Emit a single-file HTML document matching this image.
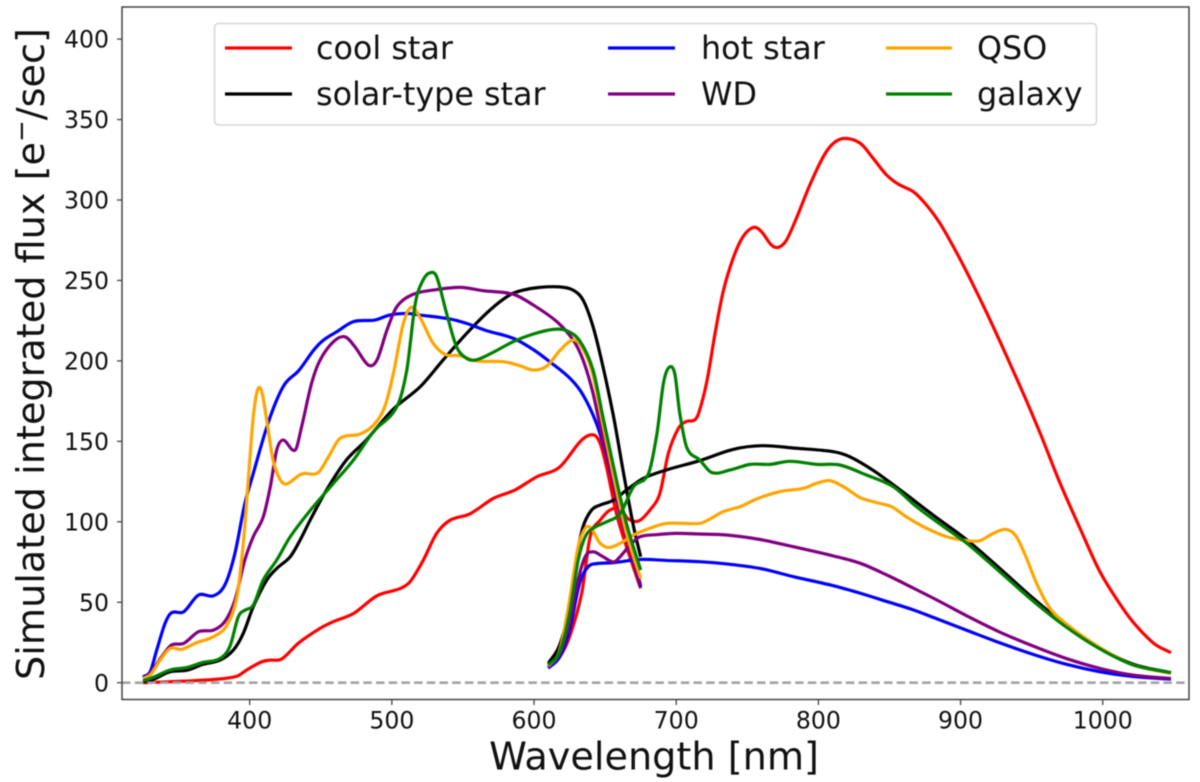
<!DOCTYPE html>
<html lang="en">
<head>
<meta charset="utf-8">
<title>Simulated integrated flux vs wavelength</title>
<style>
html,body{margin:0;padding:0;background:#fff;width:1200px;height:782px;overflow:hidden}
svg{display:block;filter:blur(0.5px)}
text{font-family:"DejaVu Sans","Liberation Sans",sans-serif;fill:#111}
</style>
</head>
<body>
<svg id="chart" xmlns="http://www.w3.org/2000/svg" width="1200" height="782" viewBox="0 0 1200 782">
  <g id="series-layer"></g>
  <g id="reference-layer"></g>
  <rect x="122" y="7" width="1067" height="692.5" fill="none" stroke="#444" stroke-width="1.5"/>
  <g id="x-ticks"></g>
  <g id="y-ticks"></g>
  <text x="654" y="769.5" font-size="38.2" text-anchor="middle">Wavelength [nm]</text>
  <text transform="translate(44,354) rotate(-90)" font-size="38.2" text-anchor="middle">Simulated integrated flux [e<tspan font-size="26" dy="-14">−</tspan><tspan dy="14">/sec]</tspan></text>
  <g>
    <rect x="214.5" y="23.5" width="882" height="101.5" rx="4" fill="#fff" fill-opacity="0.85" stroke="#d6d6d6" stroke-width="1.5"/>
    <line x1="225" x2="292" y1="48" y2="48" stroke="#ff0000" stroke-width="3.2"/>
    <text x="316" y="59" font-size="31.8">cool star</text>
    <line x1="225" x2="292" y1="94" y2="94" stroke="#000000" stroke-width="3.2"/>
    <text x="316" y="105" font-size="31.8">solar-type star</text>
    <line x1="608" x2="675" y1="48" y2="48" stroke="#0000ff" stroke-width="3.2"/>
    <text x="701" y="59" font-size="31.8">hot star</text>
    <line x1="608" x2="675" y1="94" y2="94" stroke="#800080" stroke-width="3.2"/>
    <text x="701" y="105" font-size="31.8">WD</text>
    <line x1="886" x2="952" y1="48" y2="48" stroke="#ffa500" stroke-width="3.2"/>
    <text x="977" y="59" font-size="31.8">QSO</text>
    <line x1="886" x2="952" y1="94" y2="94" stroke="#008000" stroke-width="3.2"/>
    <text x="977" y="105" font-size="31.8">galaxy</text>
  </g>
</svg>
<script>
const xTickValues = [400, 500, 600, 700, 800, 900, 1000];
const yTickValues = [0, 50, 100, 150, 200, 250, 300, 350, 400];

const coolBlueWl = [325,344,374.5,391,398,408.5,414,422.5,434,449.5,459,473,489.5,506,513,522,531.5,541,555,571.5,586.5,602,618,633.5,642,646.5,651,658,665,675];
const coolBlueFlux = [0,0.6,2,4,8,13,14,14.7,24.4,33.8,38,43,54,58.6,63,76,92.8,101,105,114.6,119.7,128,134,150.8,154,148.7,134,105,84.5,58.6];
const coolRedWl = [610,618,625,633.5,639.5,646.5,653.5,660.5,666,673.5,681.5,688.5,694.5,701.5,707,713,716,721.5,727.5,733,740,747,754.5,760,767,772,777.5,784.5,794,803.5,810.5,818.5,829.5,838.5,848,856.5,867,876,885.5,897.5,909,921,942,956,970,984,998,1012,1022,1036,1048];
const coolRedFlux = [9.5,16,28.6,55.5,90.8,101,107.3,108.4,102,100.5,107.3,117.7,142.6,158,162.3,163.3,168,187,218,243,263.7,277.2,283,280.3,272,270.6,275,288.6,309.3,327,335.2,338.3,335.2,325.9,315.5,309.7,305,296.9,285.5,266.8,247,225,184,155,124,96,69,49,37,24.4,18.6];

const solarBlueWl = [325,332,344,356,367,379,388.5,395.5,402.5,412,419,428.5,435.5,442.5,454,468,482,501,520,536,552.5,569,583,592.5,604,618,627.5,634.5,641.5,648.5,656,663,670,675];
const solarBlueFlux = [0.6,2,6.8,7.8,11.4,14,20.3,30.7,47.2,63.8,71,78.3,88.7,101,119.7,138.4,150.8,170,184,200.5,217,231.6,241,244,245.7,246,244,237.8,221.3,196.4,165,130,97,78.3];
const solarRedWl = [610,618,625,630,634.5,640.5,646.5,656,665,677,693,716.5,740,760,784.5,810.5,822,838.5,857.5,881,904.5,927.5,951,974.5,998,1021.5,1048];
const solarRedFlux = [12,23.4,47,78,97,107.3,110.4,113.5,119.7,127,132.2,138,145,147.3,145.7,143.6,140.5,132,119.8,104,88.7,71.1,52.5,35.5,21.5,11.5,6.2];

const hotBlueWl = [325,330,334.5,340.5,345,353.5,364,374.5,382.5,389.5,396.5,402.5,411,418,425,434.5,445,452,461,473,488,498.5,510.5,520,541,552.5,566.5,585.5,599.5,611,625.5,634.5,644,651,660.5,667.5,675];
const hotBlueFlux = [3.7,6.8,20,37,43.5,44,54.5,54,60.7,80,111,130,156,173.6,186,194,206.7,213,218,224.4,225.4,228.5,229.5,228.5,226,223.3,218.8,214,207,199.5,189,178.8,161,140.5,105,82.4,59.6];
const hotRedWl = [610,618,625,632,638,644,656,675,693,716.5,735.5,759,782.5,810.5,829.5,848,867,881,904.5,927.5,951,974.5,998,1021.5,1048];
const hotRedFlux = [9,16,32.7,61.7,72,74,74.6,76.6,76,75.2,73.8,71,65.9,60.3,55.6,50.5,45.2,40.5,32.5,24.8,17.6,11.4,6.8,3.8,2.2];

const wdBlueWl = [325,330,338,345,353.5,364,374.5,382.5,389.5,396.5,402.5,409.5,414.5,419,423.5,432,436.5,443.5,449.5,459,467,474,483.5,489.5,496.5,503.5,515,529,548,564.5,585.5,599.5,616,627.5,634.5,641.5,648.5,656,663,675];
const wdBlueFlux = [2.7,5.8,16,23.4,24.4,31.7,32.7,38,51,76,90.7,103,121.8,144.6,150.8,144.6,159,186,200.5,212,215,208.8,197.4,200.5,219,233.7,241.4,244,245.7,243.6,241.4,234.7,224.4,213,200.5,179.8,150.8,121.8,97,60.7];
const wdRedWl = [610,618,625,631,636,641.5,648.5,656,660.5,667.5,674.5,686,700,716.5,735.5,759,782.5,810.5,829.5,848,867,885.5,904.5,927.5,951,974.5,998,1021.5,1048];
const wdRedFlux = [10,18,37,63.8,78.3,81.4,78.3,75,78.3,85.5,90.7,92,92.8,92.4,91.8,89,84.5,78.8,74.2,67,58.7,50.4,41.5,31.5,22.8,15,8.9,4.7,2.6];

const qsoBlueWl = [325,330,337,344,352,362.5,374.5,384,391,395.5,399,402.5,405.5,408.5,412,416.5,421.5,426,436.5,448,455.5,463.5,477.5,487,495,501,508,513.5,519.5,529,537.5,548,559.5,578.5,590,599.5,609,618.5,627.5,633.5,640.5,646.5,656,665,675];
const qsoBlueFlux = [2.7,4.8,14,21.3,20.7,24.8,28.6,35.8,53.4,86.6,126,165,181.9,180.9,163,138,126,123.5,129.7,130.5,140.5,151.8,154.5,160,171.5,192,223,233.3,227.5,211,204,203.2,200,199.5,197,194.3,196.8,206.8,213,208.8,194.3,169.5,128,92.8,64.8];
const qsoRedWl = [610,618,625,631,636,640,643,646.5,652.5,660.5,670,681.5,693,716.5,723.5,733,745,756.5,773,789.5,799,808,817.5,829.5,841,851.5,862,876,890,904.5,913.5,923,931.5,938.5,945.5,953.5,963,972.5,986.5,1003,1021.5,1048];
const qsoRedFlux = [10.3,20,51.4,84.5,96,96.3,91.8,86.6,84,86.6,91.8,96,99,99,101.6,106.3,109.4,114.2,118.8,120.8,124,125.6,121.9,115,111.9,109.4,103,96,90.8,88.3,88.2,92.8,95.3,91.7,79.3,61.7,46,37.9,28.5,19.2,11,5.8];

const galaxyBlueWl = [325,332,344,356,367,379,386,392,396.5,402.5,409.5,419,428.5,442.5,459,473,487,503.5,510.5,516.5,522,527,531.5,538.5,545.5,552.5,558.5,569,585.5,599.5,613.5,623,632.5,641.5,648.5,656,665,675];
const galaxyBlueFlux = [1.2,3.3,7.9,9.5,12.6,15,22.4,41,45,48.2,63.8,76.2,90.7,107,124,138.4,156,171.5,194.3,235.8,250.3,254.8,252.3,229.5,208.8,201.6,200.5,204.3,212,216.7,219.6,218.8,212,194.3,165,134,99,70];
const galaxyRedWl = [610,618,625,631,636,641.5,651,660.5,670,680.5,686.5,691,695,699,702.5,707.5,716.5,725,738,752,766,780,799,815,834,852.5,869,888,904.5,927.5,951,974.5,998,1021.5,1048];
const galaxyRedFlux = [11,19,43,76,90.7,96,100,105,121.8,130,155,186,196,192,167.4,146,138.5,130.6,132.2,135.7,135.7,137.6,135.7,135.3,129,121.9,109.4,97,86.6,69,50.8,34.5,21,11,6.2];

const X_AT_400 = 249.7, PX_PER_NM = 1.4217;
const Y_AT_0 = 682.7, PX_PER_FLUX = 1.609;
const NS = 'http://www.w3.org/2000/svg';

function xScale(wl) { return X_AT_400 + (wl - 400) * PX_PER_NM; }
function yScale(f) { return Y_AT_0 - f * PX_PER_FLUX; }

function curvePath(wls, fluxes) {
  const n = Math.min(wls.length, fluxes.length);
  const px = [], py = [], m = [];
  for (let i = 0; i < n; i++) { px.push(xScale(wls[i])); py.push(yScale(fluxes[i])); }
  for (let i = 0; i < n; i++) {
    const a = Math.max(0, i - 1), b = Math.min(n - 1, i + 1);
    m.push((py[b] - py[a]) / (px[b] - px[a]));
  }
  let d = 'M' + px[0].toFixed(2) + ' ' + py[0].toFixed(2);
  for (let i = 0; i < n - 1; i++) {
    const h = (px[i + 1] - px[i]) / 3;
    d += 'C' + (px[i] + h).toFixed(2) + ' ' + (py[i] + m[i] * h).toFixed(2) + ' ' +
         (px[i + 1] - h).toFixed(2) + ' ' + (py[i + 1] - m[i + 1] * h).toFixed(2) + ' ' +
         px[i + 1].toFixed(2) + ' ' + py[i + 1].toFixed(2);
  }
  return d;
}

function drawLine(name, color, wls, fluxes) {
  const p = document.createElementNS(NS, 'path');
  p.setAttribute('d', curvePath(wls, fluxes));
  p.setAttribute('fill', 'none');
  p.setAttribute('stroke', color);
  p.setAttribute('stroke-width', '3.2');
  p.setAttribute('stroke-linejoin', 'round');
  
  
  document.getElementById('series-layer').appendChild(p);
}

drawLine('cool-star-blue-arm', '#ff0000', coolBlueWl, coolBlueFlux);
drawLine('cool-star-red-arm', '#ff0000', coolRedWl, coolRedFlux);
drawLine('solar-type-star-blue-arm', '#000000', solarBlueWl, solarBlueFlux);
drawLine('solar-type-star-red-arm', '#000000', solarRedWl, solarRedFlux);
drawLine('hot-star-blue-arm', '#0000ff', hotBlueWl, hotBlueFlux);
drawLine('hot-star-red-arm', '#0000ff', hotRedWl, hotRedFlux);
drawLine('wd-blue-arm', '#800080', wdBlueWl, wdBlueFlux);
drawLine('wd-red-arm', '#800080', wdRedWl, wdRedFlux);
drawLine('qso-blue-arm', '#ffa500', qsoBlueWl, qsoBlueFlux);
drawLine('qso-red-arm', '#ffa500', qsoRedWl, qsoRedFlux);
drawLine('galaxy-blue-arm', '#008000', galaxyBlueWl, galaxyBlueFlux);
drawLine('galaxy-red-arm', '#008000', galaxyRedWl, galaxyRedFlux);

const zeroLine = document.createElementNS(NS, 'line');
zeroLine.setAttribute('x1', '122');
zeroLine.setAttribute('x2', '1189');
zeroLine.setAttribute('y1', yScale(0));
zeroLine.setAttribute('y2', yScale(0));
zeroLine.setAttribute('stroke', '#a3a3a3');
zeroLine.setAttribute('stroke-width', '2.6');
zeroLine.setAttribute('stroke-dasharray', '8.5 4.2');


document.getElementById('reference-layer').appendChild(zeroLine);

xTickValues.forEach(function (v) {
  const t = document.createElementNS(NS, 'line');
  t.setAttribute('x1', xScale(v));
  t.setAttribute('x2', xScale(v));
  t.setAttribute('y1', '699.5');
  t.setAttribute('y2', '705');
  t.setAttribute('stroke', '#444');
  t.setAttribute('stroke-width', '1.3');
  
  
  document.getElementById('x-ticks').appendChild(t);
  const l = document.createElementNS(NS, 'text');
  l.setAttribute('x', xScale(v));
  l.setAttribute('y', '728.5');
  l.setAttribute('font-size', '23.6');
  l.setAttribute('text-anchor', 'middle');
  
  
  l.textContent = String(v);
  document.getElementById('x-ticks').appendChild(l);
});

yTickValues.forEach(function (v) {
  const t = document.createElementNS(NS, 'line');
  t.setAttribute('x1', '117');
  t.setAttribute('x2', '122');
  t.setAttribute('y1', yScale(v));
  t.setAttribute('y2', yScale(v));
  t.setAttribute('stroke', '#444');
  t.setAttribute('stroke-width', '1.3');
  
  
  document.getElementById('y-ticks').appendChild(t);
  const l = document.createElementNS(NS, 'text');
  l.setAttribute('x', '109');
  l.setAttribute('y', yScale(v) + 8.6);
  l.setAttribute('font-size', '23.6');
  l.setAttribute('text-anchor', 'end');
  
  
  l.textContent = String(v);
  document.getElementById('y-ticks').appendChild(l);
});
</script>
</body>
</html>
